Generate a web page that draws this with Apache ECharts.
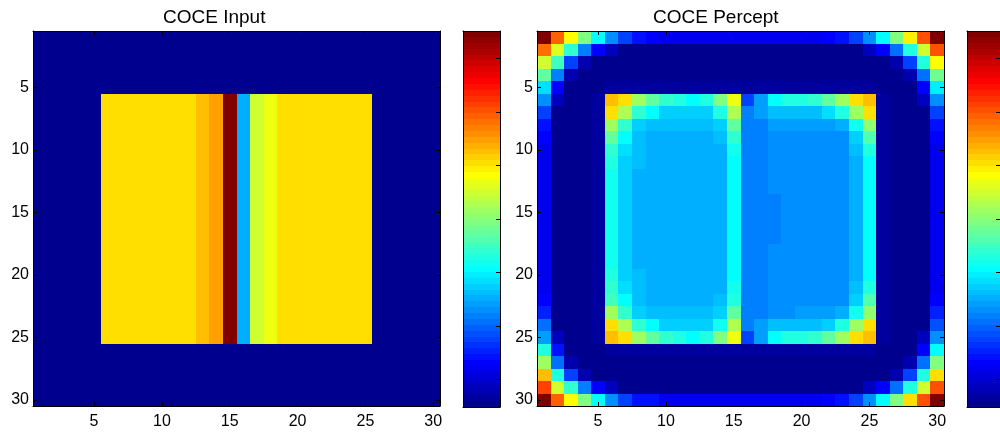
<!DOCTYPE html>
<html>
<head>
<meta charset="utf-8">
<script src="https://cdn.jsdelivr.net/npm/echarts@6/dist/echarts.min.js"></script>
<style>
  html, body { margin: 0; padding: 0; background: #ffffff; }
  #chart { width: 1000px; height: 436px; }
</style>
</head>
<body>
<div id="chart"></div>
<script>
// Pixel indices 1..30 along each image axis
const cells = ['1','2','3','4','5','6','7','8','9','10','11','12','13','14','15',
               '16','17','18','19','20','21','22','23','24','25','26','27','28','29','30'];

// Intensity levels (0..63 on the jet colour scale)
const inputImage = [
  [0,0,0,0,0,0,0,0,0,0,0,0,0,0,0,0,0,0,0,0,0,0,0,0,0,0,0,0,0,0],
  [0,0,0,0,0,0,0,0,0,0,0,0,0,0,0,0,0,0,0,0,0,0,0,0,0,0,0,0,0,0],
  [0,0,0,0,0,0,0,0,0,0,0,0,0,0,0,0,0,0,0,0,0,0,0,0,0,0,0,0,0,0],
  [0,0,0,0,0,0,0,0,0,0,0,0,0,0,0,0,0,0,0,0,0,0,0,0,0,0,0,0,0,0],
  [0,0,0,0,0,0,0,0,0,0,0,0,0,0,0,0,0,0,0,0,0,0,0,0,0,0,0,0,0,0],
  [0,0,0,0,0,41,41,41,41,41,41,41,43,45,63,18,36,38,41,41,41,41,41,41,41,0,0,0,0,0],
  [0,0,0,0,0,41,41,41,41,41,41,41,43,45,63,18,36,38,41,41,41,41,41,41,41,0,0,0,0,0],
  [0,0,0,0,0,41,41,41,41,41,41,41,43,45,63,18,36,38,41,41,41,41,41,41,41,0,0,0,0,0],
  [0,0,0,0,0,41,41,41,41,41,41,41,43,45,63,18,36,38,41,41,41,41,41,41,41,0,0,0,0,0],
  [0,0,0,0,0,41,41,41,41,41,41,41,43,45,63,18,36,38,41,41,41,41,41,41,41,0,0,0,0,0],
  [0,0,0,0,0,41,41,41,41,41,41,41,43,45,63,18,36,38,41,41,41,41,41,41,41,0,0,0,0,0],
  [0,0,0,0,0,41,41,41,41,41,41,41,43,45,63,18,36,38,41,41,41,41,41,41,41,0,0,0,0,0],
  [0,0,0,0,0,41,41,41,41,41,41,41,43,45,63,18,36,38,41,41,41,41,41,41,41,0,0,0,0,0],
  [0,0,0,0,0,41,41,41,41,41,41,41,43,45,63,18,36,38,41,41,41,41,41,41,41,0,0,0,0,0],
  [0,0,0,0,0,41,41,41,41,41,41,41,43,45,63,18,36,38,41,41,41,41,41,41,41,0,0,0,0,0],
  [0,0,0,0,0,41,41,41,41,41,41,41,43,45,63,18,36,38,41,41,41,41,41,41,41,0,0,0,0,0],
  [0,0,0,0,0,41,41,41,41,41,41,41,43,45,63,18,36,38,41,41,41,41,41,41,41,0,0,0,0,0],
  [0,0,0,0,0,41,41,41,41,41,41,41,43,45,63,18,36,38,41,41,41,41,41,41,41,0,0,0,0,0],
  [0,0,0,0,0,41,41,41,41,41,41,41,43,45,63,18,36,38,41,41,41,41,41,41,41,0,0,0,0,0],
  [0,0,0,0,0,41,41,41,41,41,41,41,43,45,63,18,36,38,41,41,41,41,41,41,41,0,0,0,0,0],
  [0,0,0,0,0,41,41,41,41,41,41,41,43,45,63,18,36,38,41,41,41,41,41,41,41,0,0,0,0,0],
  [0,0,0,0,0,41,41,41,41,41,41,41,43,45,63,18,36,38,41,41,41,41,41,41,41,0,0,0,0,0],
  [0,0,0,0,0,41,41,41,41,41,41,41,43,45,63,18,36,38,41,41,41,41,41,41,41,0,0,0,0,0],
  [0,0,0,0,0,41,41,41,41,41,41,41,43,45,63,18,36,38,41,41,41,41,41,41,41,0,0,0,0,0],
  [0,0,0,0,0,41,41,41,41,41,41,41,43,45,63,18,36,38,41,41,41,41,41,41,41,0,0,0,0,0],
  [0,0,0,0,0,0,0,0,0,0,0,0,0,0,0,0,0,0,0,0,0,0,0,0,0,0,0,0,0,0],
  [0,0,0,0,0,0,0,0,0,0,0,0,0,0,0,0,0,0,0,0,0,0,0,0,0,0,0,0,0,0],
  [0,0,0,0,0,0,0,0,0,0,0,0,0,0,0,0,0,0,0,0,0,0,0,0,0,0,0,0,0,0],
  [0,0,0,0,0,0,0,0,0,0,0,0,0,0,0,0,0,0,0,0,0,0,0,0,0,0,0,0,0,0],
  [0,0,0,0,0,0,0,0,0,0,0,0,0,0,0,0,0,0,0,0,0,0,0,0,0,0,0,0,0,0]
];

const perceptImage = [
  [63,49,39,31,23,16,11,8,7,6,6,6,6,6,6,6,6,6,6,6,6,7,8,11,16,23,31,40,50,63],
  [48,37,26,15,7,3,0,0,0,0,0,0,0,0,0,0,0,0,0,0,0,0,0,0,3,7,14,25,36,50],
  [36,27,11,2,0,0,0,0,0,0,0,0,0,0,0,0,0,0,0,0,0,0,0,0,0,0,2,11,25,39],
  [29,15,2,0,0,0,0,0,0,0,0,0,0,0,0,0,0,0,0,0,0,0,0,0,0,0,0,2,14,30],
  [21,7,0,0,0,1,1,1,1,1,1,1,1,1,1,1,1,1,1,1,1,1,1,1,1,0,0,0,7,22],
  [16,3,0,0,1,43,41,33,29,26,25,23,25,31,38,11,17,23,25,25,26,29,33,41,43,1,0,0,3,16],
  [11,0,0,0,1,41,34,26,23,20,20,20,20,25,34,15,17,19,19,19,19,21,25,33,41,1,0,0,0,11],
  [8,0,0,0,1,33,26,20,19,19,19,19,19,20,29,15,15,17,17,17,17,17,18,24,32,1,0,0,0,8],
  [7,0,0,0,1,29,23,19,18,18,18,18,18,19,26,15,15,16,16,16,16,16,16,20,28,1,0,0,0,7],
  [6,0,0,0,1,26,21,19,18,18,18,18,18,18,24,15,15,16,16,16,16,16,16,19,25,1,0,0,0,6],
  [6,0,0,0,1,25,20,19,18,18,18,18,18,18,23,15,15,16,16,16,16,16,16,18,23,1,0,0,0,6],
  [6,0,0,0,1,24,20,18,18,18,18,18,18,18,23,15,15,16,16,16,16,16,16,18,23,1,0,0,0,6],
  [6,0,0,0,1,24,20,18,18,18,18,18,18,18,23,15,15,16,16,16,16,16,16,18,23,1,0,0,0,6],
  [6,0,0,0,1,24,20,18,18,18,18,18,18,18,23,15,15,15,16,16,16,16,16,18,23,1,0,0,0,6],
  [6,0,0,0,1,24,20,18,18,18,18,18,18,18,23,15,15,15,16,16,16,16,16,18,23,1,0,0,0,6],
  [6,0,0,0,1,24,20,18,18,18,18,18,18,18,23,15,15,15,16,16,16,16,16,18,23,1,0,0,0,6],
  [6,0,0,0,1,24,20,18,18,18,18,18,18,18,23,15,15,15,16,16,16,16,16,18,23,1,0,0,0,6],
  [6,0,0,0,1,24,20,18,18,18,18,18,18,18,23,15,15,16,16,16,16,16,16,18,23,1,0,0,0,6],
  [6,0,0,0,1,24,20,18,18,18,18,18,18,18,23,15,15,16,16,16,16,16,16,18,23,1,0,0,0,6],
  [6,0,0,0,1,25,20,19,18,18,18,18,18,18,23,15,15,16,16,16,16,16,16,18,23,1,0,0,0,6],
  [6,0,0,0,1,26,21,19,18,18,18,18,18,18,24,15,15,16,16,16,16,16,16,19,25,1,0,0,0,6],
  [7,0,0,0,1,27,23,19,18,18,18,18,18,19,25,15,15,16,16,16,16,16,16,20,28,1,0,0,0,7],
  [9,0,0,0,1,33,26,20,19,19,19,19,19,20,29,15,15,16,16,17,17,17,18,24,32,1,0,0,0,9],
  [14,0,0,0,1,41,34,26,23,20,20,20,20,24,34,15,17,19,19,19,19,20,25,33,41,1,0,0,0,12],
  [17,3,0,0,1,43,41,33,29,26,25,23,25,31,38,11,17,23,25,25,26,29,33,41,43,1,0,0,3,16],
  [25,8,0,0,0,1,1,1,1,1,1,1,1,1,1,1,1,1,1,1,1,1,1,1,1,0,0,0,7,23],
  [33,14,2,0,0,0,0,0,0,0,0,0,0,0,0,0,0,0,0,0,0,0,0,0,0,0,0,2,14,31],
  [43,25,11,2,0,0,0,0,0,0,0,0,0,0,0,0,0,0,0,0,0,0,0,0,0,0,2,11,25,41],
  [51,36,26,15,7,3,0,0,0,0,0,0,0,0,0,0,0,0,0,0,0,0,0,0,3,7,14,25,36,50],
  [63,49,39,31,23,16,11,8,8,6,6,6,6,6,6,6,6,6,6,6,6,7,8,11,16,23,31,41,50,63]
];

// Colour bar: one swatch per level, and its tick positions (in level units)
const colorbarLevels = [0,1,2,3,4,5,6,7,8,9,10,11,12,13,14,15,16,17,18,19,20,21,22,23,24,25,26,27,28,29,30,31,
                        32,33,34,35,36,37,38,39,40,41,42,43,44,45,46,47,48,49,50,51,52,53,54,55,56,57,58,59,60,61,62,63];
const colorbarTicks = [4.64, 13.76, 22.88, 32, 41.12, 50.24, 59.36];

// 64-entry jet colour map
function jetColor(k) {
  const i = k + 1;
  let r, g, b;
  if (i <= 24) r = 0; else if (i <= 40) r = (i - 24) / 16; else if (i <= 56) r = 1; else r = (72 - i) / 16;
  if (i <= 8) g = 0; else if (i <= 24) g = (i - 8) / 16; else if (i <= 40) g = 1; else if (i <= 56) g = (56 - i) / 16; else g = 0;
  if (i <= 8) b = (i + 8) / 16; else if (i <= 24) b = 1; else if (i <= 40) b = (40 - i) / 16; else b = 0;
  const h = v => Math.round(v * 255).toString(16).padStart(2, '0');
  return '#' + h(r) + h(g) + h(b);
}
const pieces = colorbarLevels.map(k => (
  k === 63 ? { gte: k, lte: k + 1, color: jetColor(k) } : { gte: k, lt: k + 1, color: jetColor(k) }
));

function toCells(matrix) {
  const out = [];
  matrix.forEach((row, r) => row.forEach((v, c) => out.push([c, r, v])));
  return out;
}

const FONT = "'Liberation Sans', Arial, Helvetica, sans-serif";
const everyFifth = (i) => (i + 1) % 5 === 0;
const lineStyle = { color: '#000000', width: 1 };

function imageAxes(gi) {
  const tick = { show: true, inside: true, length: 4, alignWithLabel: true, interval: everyFifth, lineStyle };
  const label = { show: true, interval: everyFifth, color: '#000000', fontSize: 16, fontFamily: FONT };
  const x = [
    { gridIndex: gi, type: 'category', data: cells, position: 'bottom', z: 5,
      axisLine: { show: true, lineStyle }, axisTick: tick,
      axisLabel: Object.assign({ margin: 8 }, label), splitLine: { show: false } },
    { gridIndex: gi, type: 'category', data: cells, position: 'top', z: 5,
      axisLine: { show: true, lineStyle }, axisTick: tick,
      axisLabel: { show: false }, splitLine: { show: false } }
  ];
  const y = [
    { gridIndex: gi, type: 'category', data: cells, inverse: true, position: 'left', z: 5,
      axisLine: { show: true, lineStyle }, axisTick: tick,
      axisLabel: Object.assign({ margin: 4 }, label), splitLine: { show: false } },
    { gridIndex: gi, type: 'category', data: cells, inverse: true, position: 'right', z: 5,
      axisLine: { show: true, lineStyle }, axisTick: tick,
      axisLabel: { show: false }, splitLine: { show: false } }
  ];
  return { x, y };
}

function colorbarAxes(gi) {
  const plain = { axisLine: { show: true, lineStyle }, axisTick: { show: false },
                  axisLabel: { show: false }, splitLine: { show: false } };
  const x = [
    Object.assign({ gridIndex: gi, type: 'category', data: ['c'], position: 'bottom', z: 5 }, plain),
    Object.assign({ gridIndex: gi, type: 'category', data: ['c'], position: 'top', z: 5 }, plain)
  ];
  const y = [
    Object.assign({ gridIndex: gi, type: 'category', data: colorbarLevels, position: 'left', z: 5 }, plain),
    { gridIndex: gi, type: 'value', min: 0, max: 64, position: 'right', z: 5,
      axisLine: { show: true, lineStyle },
      axisTick: { show: true, inside: true, length: 4, customValues: colorbarTicks, lineStyle },
      axisLabel: { show: false }, splitLine: { show: false } }
  ];
  return { x, y };
}

const a0 = imageAxes(0), c1 = colorbarAxes(1), a2 = imageAxes(2), c3 = colorbarAxes(3);

// Snap a band edge to whole pixels; neighbouring cells share the same edge value
const snap = v => Math.round(Math.round(v * 1000) / 1000);

// Each cell is a pixel-snapped rectangle sized by the category bands
function renderCell(params, api) {
  const p = api.coord([api.value(0), api.value(1)]);
  const s = api.size([1, 1]);
  const x0 = snap(p[0] - s[0] / 2), x1 = snap(p[0] + s[0] / 2);
  const y0 = snap(p[1] - s[1] / 2), y1 = snap(p[1] + s[1] / 2);
  return {
    type: 'rect',
    shape: { x: x0, y: y0, width: x1 - x0, height: y1 - y0 },
    style: { fill: api.visual('color') }
  };
}

const image = (xi, yi, data) => ({
  type: 'custom', xAxisIndex: xi, yAxisIndex: yi, data,
  encode: { x: 0, y: 1 }, renderItem: renderCell, silent: true, z: 2
});

const titleStyle = { fontFamily: FONT, fontSize: 19, fontWeight: 'normal', color: '#000000' };

const option = {
  backgroundColor: '#ffffff',
  animation: false,
  title: [
    { text: 'COCE Input', left: 163, top: 8, padding: 0, textStyle: titleStyle },
    { text: 'COCE Percept', left: 653, top: 8, padding: 0, textStyle: titleStyle }
  ],
  grid: [
    { left: 33, top: 31, width: 407, height: 375 },
    { left: 463, top: 31, width: 37, height: 376 },
    { left: 537, top: 31, width: 407, height: 375 },
    { left: 967, top: 31, width: 37, height: 376 }
  ],
  xAxis: [...a0.x, ...c1.x, ...a2.x, ...c3.x],
  yAxis: [...a0.y, ...c1.y, ...a2.y, ...c3.y],
  visualMap: {
    type: 'piecewise', show: false, seriesIndex: [0, 1, 2, 3], dimension: 2, pieces
  },
  series: [
    image(0, 0, toCells(inputImage)),
    image(2, 2, colorbarLevels.map(k => [0, k, k])),
    image(4, 4, toCells(perceptImage)),
    image(6, 6, colorbarLevels.map(k => [0, k, k]))
  ]
};

const chart = echarts.init(document.getElementById('chart'), null, { renderer: 'canvas' });
chart.setOption(option);
</script>
</body>
</html>
